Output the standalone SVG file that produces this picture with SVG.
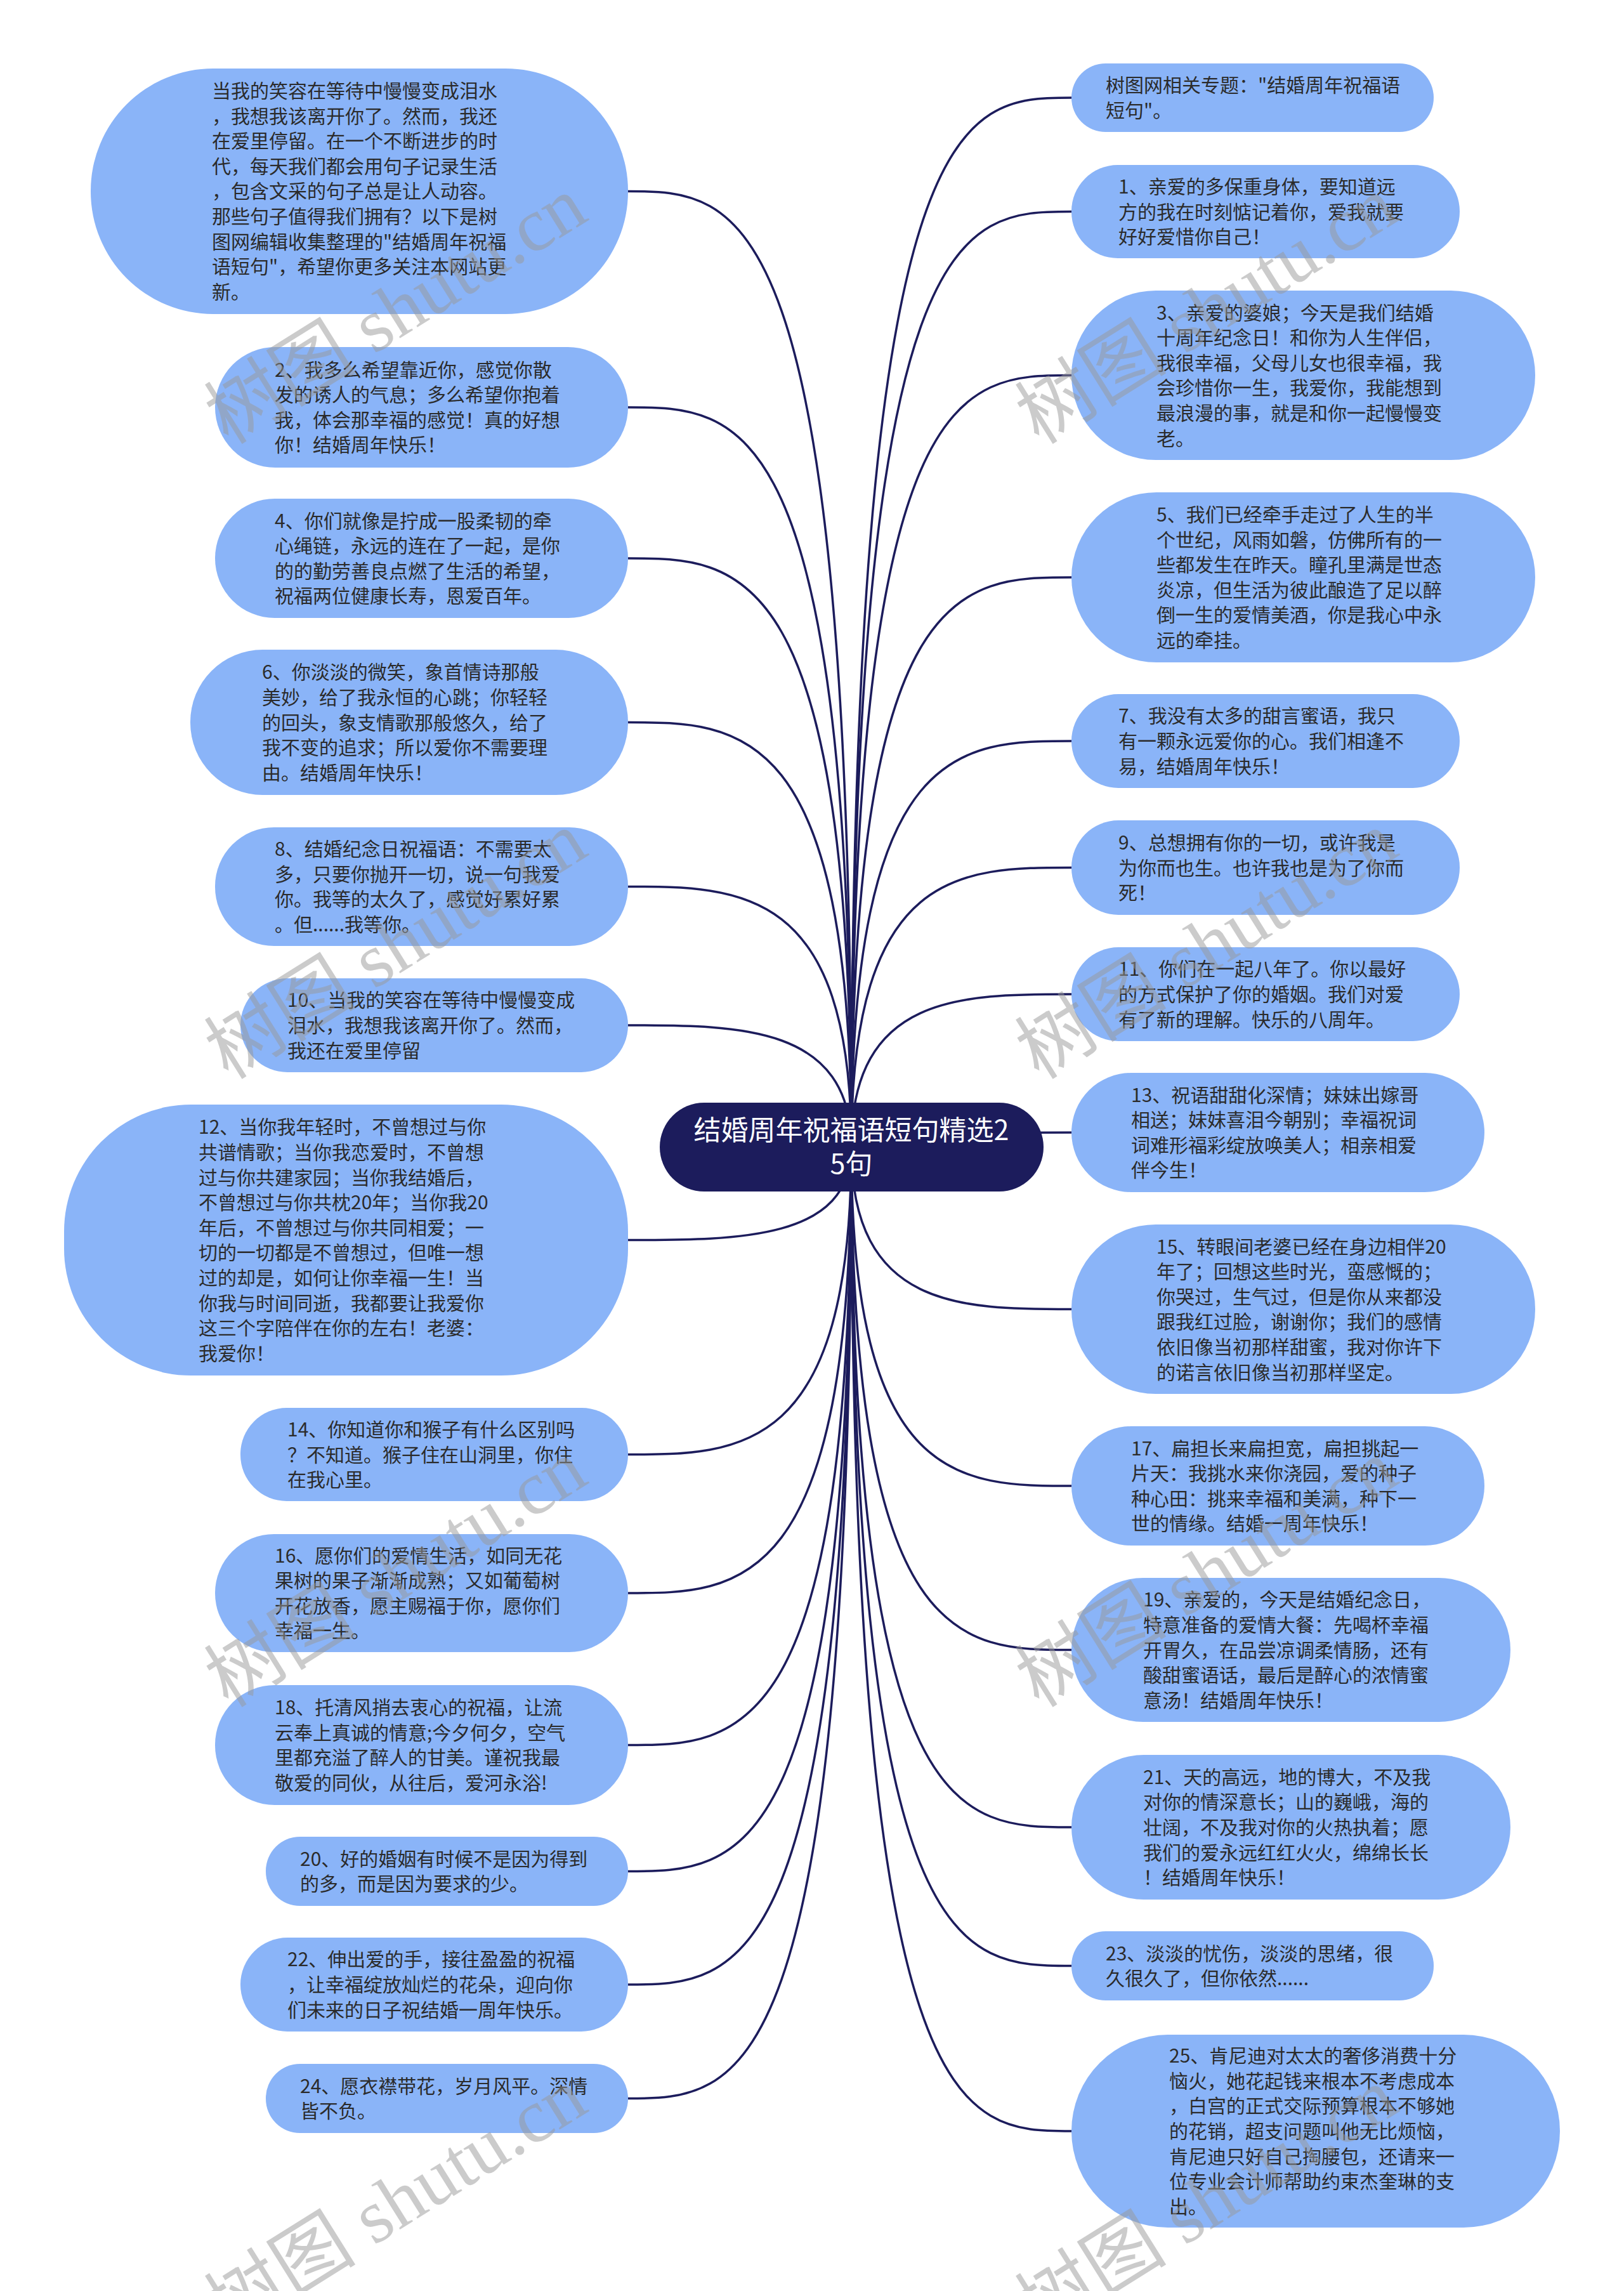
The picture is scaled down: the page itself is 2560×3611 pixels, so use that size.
<svg xmlns="http://www.w3.org/2000/svg" width="2560" height="3611" viewBox="0 0 2560 3611">
<style>
.bg{fill:#ffffff}
.node rect{fill:#8ab4f8}
.node text{font-family:"Noto Sans CJK SC","Noto Sans",sans-serif;font-size:30px;fill:#2b2b2b}
.root rect{fill:#1c1c5c}
.root text{font-family:"Noto Sans CJK SC","Noto Sans",sans-serif;font-size:43px;fill:#ffffff;text-anchor:middle}
.edge{fill:none;stroke:#1c1c5c;stroke-width:3.5}
.wm{font-family:"Liberation Serif","Noto Sans CJK SC",serif;font-size:120px;fill:#999999;opacity:0.5}
</style>
<rect class="bg" x="0" y="0" width="2560" height="3611"/>
<g id="connectors">
<path class="edge" d="M1342,1808 C1342,301.5 1166,301.5 990,301.5"/>
<path class="edge" d="M1342,1808 C1342,642 1166,642 990,642"/>
<path class="edge" d="M1342,1808 C1342,880 1166,880 990,880"/>
<path class="edge" d="M1342,1808 C1342,1138.5 1166,1138.5 990,1138.5"/>
<path class="edge" d="M1342,1808 C1342,1397.5 1166,1397.5 990,1397.5"/>
<path class="edge" d="M1342,1808 C1342,1616 1166,1616 990,1616"/>
<path class="edge" d="M1342,1808 C1342,1954.5 1166,1954.5 990,1954.5"/>
<path class="edge" d="M1342,1808 C1342,2292.5 1166,2292.5 990,2292.5"/>
<path class="edge" d="M1342,1808 C1342,2511 1166,2511 990,2511"/>
<path class="edge" d="M1342,1808 C1342,2750.5 1166,2750.5 990,2750.5"/>
<path class="edge" d="M1342,1808 C1342,2949.5 1166,2949.5 990,2949.5"/>
<path class="edge" d="M1342,1808 C1342,3128 1166,3128 990,3128"/>
<path class="edge" d="M1342,1808 C1342,3307.5 1166,3307.5 990,3307.5"/>
<path class="edge" d="M1342,1808 C1342,154 1515.5,154 1689,154"/>
<path class="edge" d="M1342,1808 C1342,333.5 1515.5,333.5 1689,333.5"/>
<path class="edge" d="M1342,1808 C1342,591.5 1515.5,591.5 1689,591.5"/>
<path class="edge" d="M1342,1808 C1342,910 1515.5,910 1689,910"/>
<path class="edge" d="M1342,1808 C1342,1168 1515.5,1168 1689,1168"/>
<path class="edge" d="M1342,1808 C1342,1367.5 1515.5,1367.5 1689,1367.5"/>
<path class="edge" d="M1342,1808 C1342,1567 1515.5,1567 1689,1567"/>
<path class="edge" d="M1342,1808 C1342,1785 1515.5,1785 1689,1785"/>
<path class="edge" d="M1342,1808 C1342,2063.5 1515.5,2063.5 1689,2063.5"/>
<path class="edge" d="M1342,1808 C1342,2342 1515.5,2342 1689,2342"/>
<path class="edge" d="M1342,1808 C1342,2600.5 1515.5,2600.5 1689,2600.5"/>
<path class="edge" d="M1342,1808 C1342,2880 1515.5,2880 1689,2880"/>
<path class="edge" d="M1342,1808 C1342,3098.5 1515.5,3098.5 1689,3098.5"/>
<path class="edge" d="M1342,1808 C1342,3359 1515.5,3359 1689,3359"/>
</g>
<g id="root" class="root">
<rect x="1040" y="1738" width="605" height="140" rx="70"/>
<text><tspan x="1342" y="1797">结婚周年祝福语短句精选2</tspan><tspan x="1342" y="1850">5句</tspan></text>
</g>
<g id="n-intro" class="node">
<rect x="143" y="108" width="847" height="387" rx="193"/>
<text><tspan x="334" y="154">当我的笑容在等待中慢慢变成泪水</tspan><tspan x="334" y="193.6">，我想我该离开你了。然而，我还</tspan><tspan x="334" y="233.2">在爱里停留。在一个不断进步的时</tspan><tspan x="334" y="272.8">代，每天我们都会用句子记录生活</tspan><tspan x="334" y="312.4">，包含文采的句子总是让人动容。</tspan><tspan x="334" y="352">那些句子值得我们拥有？以下是树</tspan><tspan x="334" y="391.6">图网编辑收集整理的"结婚周年祝福</tspan><tspan x="334" y="431.2">语短句"，希望你更多关注本网站更</tspan><tspan x="334" y="470.8">新。</tspan></text>
</g>
<g id="n-2" class="node">
<rect x="339" y="547" width="651" height="190" rx="95"/>
<text><tspan x="433" y="593.6">2、我多么希望靠近你，感觉你散</tspan><tspan x="433" y="633.2">发的诱人的气息；多么希望你抱着</tspan><tspan x="433" y="672.8">我，体会那幸福的感觉！真的好想</tspan><tspan x="433" y="712.4">你！结婚周年快乐！</tspan></text>
</g>
<g id="n-4" class="node">
<rect x="339" y="786" width="651" height="188" rx="94"/>
<text><tspan x="433" y="831.6">4、你们就像是拧成一股柔韧的牵</tspan><tspan x="433" y="871.2">心绳链，永远的连在了一起，是你</tspan><tspan x="433" y="910.8">的的勤劳善良点燃了生活的希望，</tspan><tspan x="433" y="950.4">祝福两位健康长寿，恩爱百年。</tspan></text>
</g>
<g id="n-6" class="node">
<rect x="300" y="1024" width="690" height="229" rx="114"/>
<text><tspan x="413" y="1070.3">6、你淡淡的微笑，象首情诗那般</tspan><tspan x="413" y="1109.9">美妙，给了我永恒的心跳；你轻轻</tspan><tspan x="413" y="1149.5">的回头，象支情歌那般悠久，给了</tspan><tspan x="413" y="1189.1">我不变的追求；所以爱你不需要理</tspan><tspan x="413" y="1228.7">由。结婚周年快乐！</tspan></text>
</g>
<g id="n-8" class="node">
<rect x="339" y="1304" width="651" height="187" rx="93"/>
<text><tspan x="433" y="1349.1">8、结婚纪念日祝福语：不需要太</tspan><tspan x="433" y="1388.7">多，只要你抛开一切，说一句我爱</tspan><tspan x="433" y="1428.3">你。我等的太久了，感觉好累好累</tspan><tspan x="433" y="1467.9">。但......我等你。</tspan></text>
</g>
<g id="n-10" class="node">
<rect x="379" y="1542" width="611" height="148" rx="74"/>
<text><tspan x="453" y="1587.4">10、当我的笑容在等待中慢慢变成</tspan><tspan x="453" y="1627">泪水，我想我该离开你了。然而，</tspan><tspan x="453" y="1666.6">我还在爱里停留</tspan></text>
</g>
<g id="n-12" class="node">
<rect x="101" y="1741" width="889" height="427" rx="200"/>
<text><tspan x="313" y="1787.3">12、当你我年轻时，不曾想过与你</tspan><tspan x="313" y="1826.9">共谱情歌；当你我恋爱时，不曾想</tspan><tspan x="313" y="1866.5">过与你共建家园；当你我结婚后，</tspan><tspan x="313" y="1906.1">不曾想过与你共枕20年；当你我20</tspan><tspan x="313" y="1945.7">年后，不曾想过与你共同相爱；一</tspan><tspan x="313" y="1985.3">切的一切都是不曾想过，但唯一想</tspan><tspan x="313" y="2024.9">过的却是，如何让你幸福一生！当</tspan><tspan x="313" y="2064.5">你我与时间同逝，我都要让我爱你</tspan><tspan x="313" y="2104.1">这三个字陪伴在你的左右！老婆：</tspan><tspan x="313" y="2143.7">我爱你！</tspan></text>
</g>
<g id="n-14" class="node">
<rect x="379" y="2219" width="611" height="147" rx="73"/>
<text><tspan x="453" y="2263.9">14、你知道你和猴子有什么区别吗</tspan><tspan x="453" y="2303.5">？不知道。猴子住在山洞里，你住</tspan><tspan x="453" y="2343.1">在我心里。</tspan></text>
</g>
<g id="n-16" class="node">
<rect x="339" y="2418" width="651" height="186" rx="93"/>
<text><tspan x="433" y="2462.6">16、愿你们的爱情生活，如同无花</tspan><tspan x="433" y="2502.2">果树的果子渐渐成熟；又如葡萄树</tspan><tspan x="433" y="2541.8">开花放香，愿主赐福于你，愿你们</tspan><tspan x="433" y="2581.4">幸福一生。</tspan></text>
</g>
<g id="n-18" class="node">
<rect x="339" y="2656" width="651" height="189" rx="94"/>
<text><tspan x="433" y="2702.1">18、托清风捎去衷心的祝福，让流</tspan><tspan x="433" y="2741.7">云奉上真诚的情意;今夕何夕，空气</tspan><tspan x="433" y="2781.3">里都充溢了醉人的甘美。谨祝我最</tspan><tspan x="433" y="2820.9">敬爱的同伙，从往后，爱河永浴!</tspan></text>
</g>
<g id="n-20" class="node">
<rect x="419" y="2895" width="571" height="109" rx="54"/>
<text><tspan x="473" y="2940.7">20、好的婚姻有时候不是因为得到</tspan><tspan x="473" y="2980.3">的多，而是因为要求的少。</tspan></text>
</g>
<g id="n-22" class="node">
<rect x="379" y="3054" width="611" height="148" rx="74"/>
<text><tspan x="453" y="3099.4">22、伸出爱的手，接往盈盈的祝福</tspan><tspan x="453" y="3139">，让幸福绽放灿烂的花朵，迎向你</tspan><tspan x="453" y="3178.6">们未来的日子祝结婚一周年快乐。</tspan></text>
</g>
<g id="n-24" class="node">
<rect x="419" y="3253" width="571" height="109" rx="54"/>
<text><tspan x="473" y="3298.7">24、愿衣襟带花，岁月风平。深情</tspan><tspan x="473" y="3338.3">皆不负。</tspan></text>
</g>
<g id="n-topic" class="node">
<rect x="1689" y="100" width="571" height="108" rx="54"/>
<text><tspan x="1743" y="145.2">树图网相关专题："结婚周年祝福语</tspan><tspan x="1743" y="184.8">短句"。</tspan></text>
</g>
<g id="n-1" class="node">
<rect x="1689" y="260" width="612" height="147" rx="73"/>
<text><tspan x="1763" y="304.9">1、亲爱的多保重身体，要知道远</tspan><tspan x="1763" y="344.5">方的我在时刻惦记着你，爱我就要</tspan><tspan x="1763" y="384.1">好好爱惜你自己！</tspan></text>
</g>
<g id="n-3" class="node">
<rect x="1689" y="458" width="731" height="267" rx="133"/>
<text><tspan x="1823" y="503.5">3、亲爱的婆娘；今天是我们结婚</tspan><tspan x="1823" y="543.1">十周年纪念日！和你为人生伴侣，</tspan><tspan x="1823" y="582.7">我很幸福，父母儿女也很幸福，我</tspan><tspan x="1823" y="622.3">会珍惜你一生，我爱你，我能想到</tspan><tspan x="1823" y="661.9">最浪漫的事，就是和你一起慢慢变</tspan><tspan x="1823" y="701.5">老。</tspan></text>
</g>
<g id="n-5" class="node">
<rect x="1689" y="776" width="731" height="268" rx="134"/>
<text><tspan x="1823" y="822">5、我们已经牵手走过了人生的半</tspan><tspan x="1823" y="861.6">个世纪，风雨如磐，仿佛所有的一</tspan><tspan x="1823" y="901.2">些都发生在昨天。瞳孔里满是世态</tspan><tspan x="1823" y="940.8">炎凉，但生活为彼此酿造了足以醉</tspan><tspan x="1823" y="980.4">倒一生的爱情美酒，你是我心中永</tspan><tspan x="1823" y="1020">远的牵挂。</tspan></text>
</g>
<g id="n-7" class="node">
<rect x="1689" y="1094" width="612" height="148" rx="74"/>
<text><tspan x="1763" y="1139.4">7、我没有太多的甜言蜜语，我只</tspan><tspan x="1763" y="1179">有一颗永远爱你的心。我们相逢不</tspan><tspan x="1763" y="1218.6">易，结婚周年快乐！</tspan></text>
</g>
<g id="n-9" class="node">
<rect x="1689" y="1293" width="612" height="149" rx="74"/>
<text><tspan x="1763" y="1338.9">9、总想拥有你的一切，或许我是</tspan><tspan x="1763" y="1378.5">为你而也生。也许我也是为了你而</tspan><tspan x="1763" y="1418.1">死！</tspan></text>
</g>
<g id="n-11" class="node">
<rect x="1689" y="1493" width="612" height="148" rx="74"/>
<text><tspan x="1763" y="1538.4">11、你们在一起八年了。你以最好</tspan><tspan x="1763" y="1578">的方式保护了你的婚姻。我们对爱</tspan><tspan x="1763" y="1617.6">有了新的理解。快乐的八周年。</tspan></text>
</g>
<g id="n-13" class="node">
<rect x="1689" y="1691" width="651" height="188" rx="94"/>
<text><tspan x="1783" y="1736.6">13、祝语甜甜化深情；妹妹出嫁哥</tspan><tspan x="1783" y="1776.2">相送；妹妹喜泪今朝别；幸福祝词</tspan><tspan x="1783" y="1815.8">词难形福彩绽放唤美人；相亲相爱</tspan><tspan x="1783" y="1855.4">伴今生！</tspan></text>
</g>
<g id="n-15" class="node">
<rect x="1689" y="1930" width="731" height="267" rx="133"/>
<text><tspan x="1823" y="1975.5">15、转眼间老婆已经在身边相伴20</tspan><tspan x="1823" y="2015.1">年了；回想这些时光，蛮感慨的；</tspan><tspan x="1823" y="2054.7">你哭过，生气过，但是你从来都没</tspan><tspan x="1823" y="2094.3">跟我红过脸，谢谢你；我们的感情</tspan><tspan x="1823" y="2133.9">依旧像当初那样甜蜜，我对你许下</tspan><tspan x="1823" y="2173.5">的诺言依旧像当初那样坚定。</tspan></text>
</g>
<g id="n-17" class="node">
<rect x="1689" y="2248" width="651" height="188" rx="94"/>
<text><tspan x="1783" y="2293.6">17、扁担长来扁担宽，扁担挑起一</tspan><tspan x="1783" y="2333.2">片天：我挑水来你浇园，爱的种子</tspan><tspan x="1783" y="2372.8">种心田：挑来幸福和美满，种下一</tspan><tspan x="1783" y="2412.4">世的情缘。结婚一周年快乐！</tspan></text>
</g>
<g id="n-19" class="node">
<rect x="1689" y="2487" width="692" height="227" rx="113"/>
<text><tspan x="1802" y="2532.3">19、亲爱的，今天是结婚纪念日，</tspan><tspan x="1802" y="2571.9">特意准备的爱情大餐：先喝杯幸福</tspan><tspan x="1802" y="2611.5">开胃久，在品尝凉调柔情肠，还有</tspan><tspan x="1802" y="2651.1">酸甜蜜语话，最后是醉心的浓情蜜</tspan><tspan x="1802" y="2690.7">意汤！结婚周年快乐！</tspan></text>
</g>
<g id="n-21" class="node">
<rect x="1689" y="2766" width="692" height="228" rx="114"/>
<text><tspan x="1802" y="2811.8">21、天的高远，地的博大，不及我</tspan><tspan x="1802" y="2851.4">对你的情深意长；山的巍峨，海的</tspan><tspan x="1802" y="2891">壮阔，不及我对你的火热执着；愿</tspan><tspan x="1802" y="2930.6">我们的爱永远红红火火，绵绵长长</tspan><tspan x="1802" y="2970.2">！结婚周年快乐！</tspan></text>
</g>
<g id="n-23" class="node">
<rect x="1689" y="3044" width="571" height="109" rx="54"/>
<text><tspan x="1743" y="3089.7">23、淡淡的忧伤，淡淡的思绪，很</tspan><tspan x="1743" y="3129.3">久很久了，但你依然......</tspan></text>
</g>
<g id="n-25" class="node">
<rect x="1689" y="3207" width="770" height="304" rx="152"/>
<text><tspan x="1843" y="3251.2">25、肯尼迪对太太的奢侈消费十分</tspan><tspan x="1843" y="3290.8">恼火，她花起钱来根本不考虑成本</tspan><tspan x="1843" y="3330.4">，白宫的正式交际预算根本不够她</tspan><tspan x="1843" y="3370">的花销，超支问题叫他无比烦恼，</tspan><tspan x="1843" y="3409.6">肯尼迪只好自己掏腰包，还请来一</tspan><tspan x="1843" y="3449.2">位专业会计师帮助约束杰奎琳的支</tspan><tspan x="1843" y="3488.8">出。</tspan></text>
</g>
<g id="watermarks">
<text class="wm" transform="translate(360,702) rotate(-32)">树图 shutu.cn</text>
<text class="wm" transform="translate(1638,702) rotate(-32)">树图 shutu.cn</text>
<text class="wm" transform="translate(360,1703) rotate(-32)">树图 shutu.cn</text>
<text class="wm" transform="translate(1638,1703) rotate(-32)">树图 shutu.cn</text>
<text class="wm" transform="translate(360,2693) rotate(-32)">树图 shutu.cn</text>
<text class="wm" transform="translate(1638,2693) rotate(-32)">树图 shutu.cn</text>
<text class="wm" transform="translate(360,3683) rotate(-32)">树图 shutu.cn</text>
<text class="wm" transform="translate(1638,3683) rotate(-32)">树图 shutu.cn</text>
</g>
</svg>
